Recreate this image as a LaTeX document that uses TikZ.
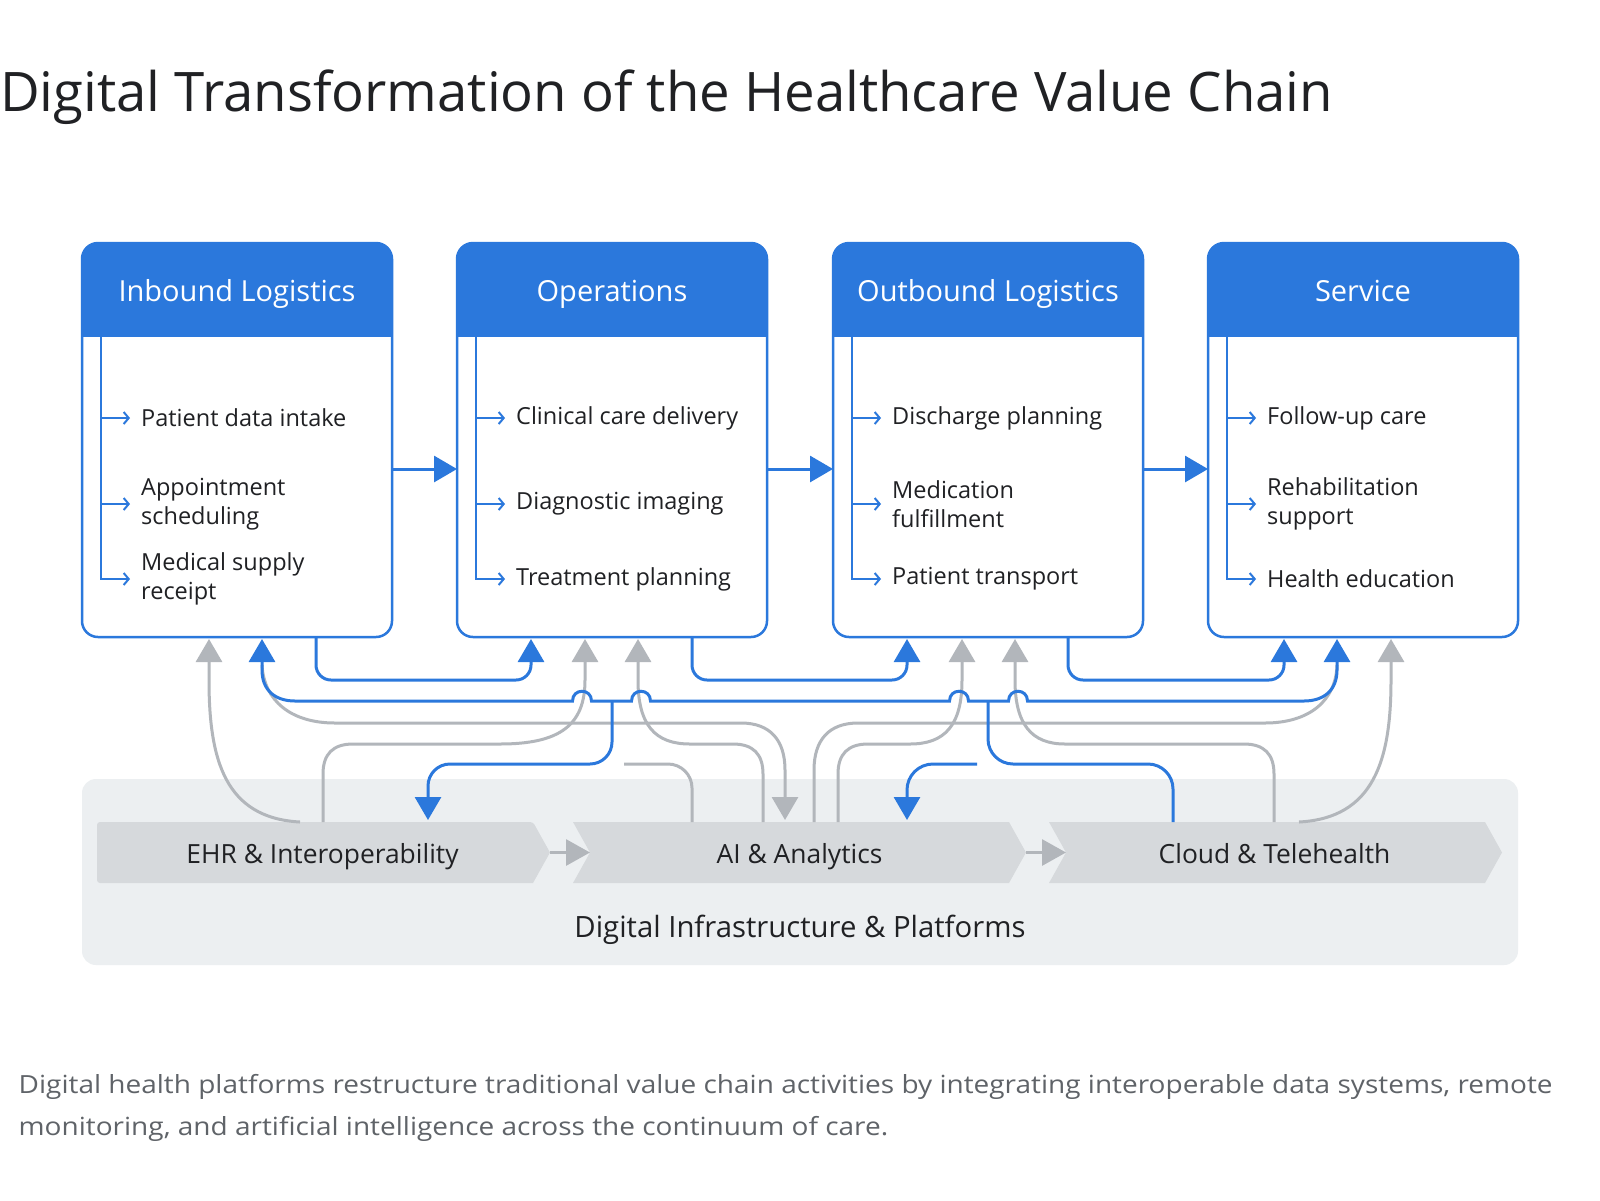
\documentclass[tikz,border=0pt]{standalone}
\usepackage{fontspec}
\setmainfont{Open Sans}
\newfontfamily\capfont[FakeStretch=1.12]{Open Sans}
\usetikzlibrary{arrows.meta,calc}
\definecolor{gblue}{RGB}{43,120,220}
\definecolor{ggray}{RGB}{178,182,187}
\definecolor{chevc}{RGB}{214,217,220}
\definecolor{panelc}{RGB}{236,239,241}
\definecolor{ink}{RGB}{32,33,36}
\definecolor{capc}{RGB}{95,99,104}
\tikzset{
 vcb/.style={draw=gblue, line width=2.5pt, fill=white, rounded corners=16pt, minimum width=310pt, minimum height=394pt, inner sep=0pt, outer sep=0pt},
 hdr/.style={anchor=base, inner sep=0pt, text=white, font=\fontsize{29}{34}\selectfont},
 item/.style={anchor=west, align=left, inner sep=0pt, text=ink, font=\fontsize{23.5}{28.6}\selectfont},
 subarr/.style={draw=gblue, line width=2pt, -{Straight Barb[length=5pt,width=12pt]}},
 flowarr/.style={draw=gblue, line width=3pt, -{Triangle[length=23pt,width=26pt]}},
 bline/.style={draw=gblue, line width=3pt},
 barr/.style={bline, -{Triangle[length=23pt,width=26pt]}},
 barrtwo/.style={bline, {Triangle[length=23pt,width=26pt]}-{Triangle[length=23pt,width=26pt]}},
 gline/.style={draw=ggray, line width=3pt},
 garr/.style={gline, -{Triangle[length=23pt,width=26pt]}},
 gsmall/.style={gline, -{Triangle[length=24pt,width=26pt]}},
 chevshape/.style={fill=chevc},
 clab/.style={anchor=base, inner sep=0pt, text=ink, font=\fontsize{26.4}{30}\selectfont},
 plab/.style={anchor=base, inner sep=0pt, text=ink, font=\fontsize{29.3}{34}\selectfont},
 ttl/.style={anchor=base west, inner sep=0pt, text=ink, font=\fontsize{54.5}{64}\selectfont},
 capt/.style={anchor=west, align=left, inner sep=0pt, text=capc, font=\capfont\fontsize{25}{42}\selectfont},
 panelbox/.style={fill=panelc, rounded corners=14pt, minimum width=1436pt, minimum height=186pt, inner sep=0pt, outer sep=0pt}
}
\newcommand\vcbox[6]{%
  \node[vcb] (b#1) at (#2,440) {};
  \begin{scope}
    \clip (b#1.north west) rectangle ($(b#1.north east)+(0,93)$);
    \fill[gblue, rounded corners=16pt] (b#1.north west) rectangle (b#1.south east);
  \end{scope}
  \node[hdr] (h#1) at (#2,301) {#3};
  \coordinate (s#1) at ($(b#1.north west)+(19,93)$);
  \node[item] (i#1a) at ($(b#1.north west)+(59,175)$) {#4};
  \node[item] (i#1b) at ($(b#1.north west)+(59,261)$) {#5};
  \node[item] (i#1c) at ($(b#1.north west)+(59,336)$) {#6};
  \draw[subarr] (s#1) |- ([xshift=-11pt]i#1c.west);
  \draw[subarr] (s#1 |- i#1a.west) -- ([xshift=-11pt]i#1a.west);
  \draw[subarr] (s#1 |- i#1b.west) -- ([xshift=-11pt]i#1b.west);
}
\begin{document}
\begin{tikzpicture}[x=1pt,y=-1pt]
\useasboundingbox (0,0) rectangle (1600,1200);
\fill[white] (0,0) rectangle (1600,1200);

% title
\node[ttl] (title) at (0,111) {Digital Transformation of the Healthcare Value Chain};

% platform panel
\node[panelbox] (panel) at (800,872) {};
\node[plab] (plab) at (800,937) {Digital Infrastructure \& Platforms};

% chevrons
\fill[chevshape, rounded corners=3pt] (97,822) -- (533,822) [sharp corners] -- (550,852.5) -- (533,883) [rounded corners=3pt] -- (97,883) -- cycle;
\fill[chevshape] (573,822) -- (1009,822) -- (1026,852.5) -- (1009,883) -- (573,883) -- (590,852.5) -- cycle;
\fill[chevshape] (1049,822) -- (1485,822) -- (1502,852.5) -- (1485,883) -- (1049,883) -- (1066,852.5) -- cycle;
\node[clab] (c1) at (322.5,863) {EHR \& Interoperability};
\node[clab] (c2) at (799.5,863) {AI \& Analytics};
\node[clab] (c3) at (1274.5,863) {Cloud \& Telehealth};
\coordinate (k1) at (550,852.5);
\coordinate (k2) at (590,852.5);
\coordinate (k3) at (1026,852.5);
\coordinate (k4) at (1066,852.5);
\draw[gsmall] (k1) -- (k2);
\draw[gsmall] (k3) -- (k4);

% value chain boxes
\vcbox{1}{237}{Inbound Logistics}{Patient data intake}{Appointment\\scheduling}{Medical supply\\receipt}
\vcbox{2}{612}{Operations}{Clinical care delivery}{Diagnostic imaging}{Treatment planning}
\vcbox{3}{988}{Outbound Logistics}{Discharge planning}{Medication\\fulfillment}{Patient transport}
\vcbox{4}{1363}{Service}{Follow-up care}{Rehabilitation\\support}{Health education}

\draw[flowarr] ($(b1.east)+(0,29)$) -- ($(b2.west)+(0,29)$);
\draw[flowarr] ($(b2.east)+(0,29)$) -- ($(b3.west)+(0,29)$);
\draw[flowarr] ($(b3.east)+(0,29)$) -- ($(b4.west)+(0,29)$);

% ports on the boxes (bottom)
\coordinate (p1a) at ($(b1.south west)+(127,2)$);
\coordinate (p1b) at ($(b1.south west)+(180,2)$);
\coordinate (p1s) at ($(b1.south west)+(234,0)$);
\coordinate (p2a) at ($(b2.south west)+(74,2)$);
\coordinate (p2b) at ($(b2.south west)+(128,2)$);
\coordinate (p2c) at ($(b2.south west)+(181,2)$);
\coordinate (p2s) at ($(b2.south west)+(235,0)$);
\coordinate (p3a) at ($(b3.south west)+(74,2)$);
\coordinate (p3b) at ($(b3.south west)+(129,2)$);
\coordinate (p3c) at ($(b3.south west)+(182,2)$);
\coordinate (p3s) at ($(b3.south west)+(235,0)$);
\coordinate (p4a) at ($(b4.south west)+(76,2)$);
\coordinate (p4b) at ($(b4.south west)+(129,2)$);
\coordinate (p4c) at ($(b4.south west)+(183,2)$);

% free ends
\coordinate (fg) at (624,764);
\coordinate (fb) at (977,764);

% gray connectors
\draw[garr] (300,822) .. controls (225,818) and (209,760) .. (209,680) -- (p1a);
\draw[garr] (323,822) -- (323,774) .. controls (323,754) and (333,744) .. (353,744) -- (500,744) .. controls (560,744) and (585,725) .. (585,680) -- (p2b);
\draw[garr] (763,822) -- (763,774) .. controls (763,754) and (753,744) .. (733,744) -- (690,744) .. controls (655,744) and (638,725) .. (638,680) -- (p2c);
\draw[garr] (838,822) -- (838,774) .. controls (838,754) and (848,744) .. (868,744) -- (910,744) .. controls (945,744) and (962,725) .. (962,680) -- (p3b);
\draw[garr] (1274,822) -- (1274,774) .. controls (1274,754) and (1264,744) .. (1244,744) -- (1065,744) .. controls (1032,744) and (1015,725) .. (1015,680) -- (p3c);
\draw[garr] (262,665) .. controls (264,700) and (290,723) .. (335,723) -- (741,723) .. controls (770,723) and (785,740) .. (785,770) -- (785,820);
\draw[gline] (814,822) -- (814,770) .. controls (814,740) and (829,723) .. (858,723) -- (1265,723) .. controls (1310,723) and (1336,700) .. (1337,665);
\draw[gline, rounded corners=24pt] (fg) -- (692,764) -- (692,822);
\draw[garr] (1299,822) .. controls (1374,818) and (1391,760) .. (1391,680) -- (p4c);

% blue connectors
\draw[barr, rounded corners=15pt] (p1s) -- (316,680) -- (531,680) -- (p2a);
\draw[barr, rounded corners=15pt] (p2s) -- (692,680) -- (907,680) -- (p3a);
\draw[barr, rounded corners=15pt] (p3s) -- (1068,680) -- (1284,680) -- (p4a);
\draw[barrtwo] (p1b) -- (262,670) .. controls (262,690) and (275,701) .. (295,701)
  -- (572.5,701) .. controls (572.5,688) and (591.5,688) .. (591.5,701)
  -- (631.5,701) .. controls (631.5,688) and (650.5,688) .. (650.5,701)
  -- (949.5,701) .. controls (949.5,688) and (968.5,688) .. (968.5,701)
  -- (1008.5,701) .. controls (1008.5,688) and (1027.5,688) .. (1027.5,701)
  -- (1304,701) .. controls (1324,701) and (1337,690) .. (1337,670) -- (p4b);
\draw[barr, rounded corners=22pt] (612,701) -- (612,764) -- (428,764) -- (428,820);
\draw[barr, rounded corners=26pt] (fb) -- (907,764) -- (907,820);
\draw[bline, rounded corners=25pt] (988,701) -- (988,764) -- (1173,764) -- (1173,822);

% caption
\node[capt] (cap) at (18.5,1108) {Digital health platforms restructure traditional value chain activities by integrating interoperable data systems, remote\\monitoring, and artificial intelligence across the continuum of care.};
\end{tikzpicture}
\end{document}
